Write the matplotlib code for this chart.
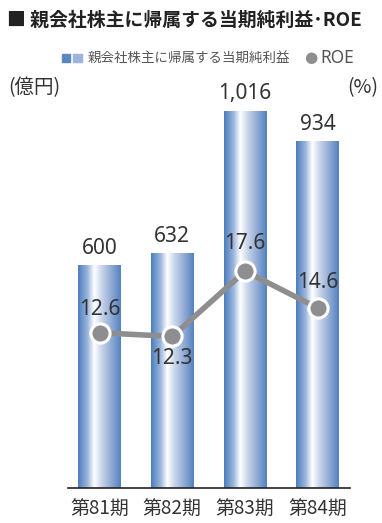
import numpy as np
import matplotlib.pyplot as plt
from matplotlib.colors import LinearSegmentedColormap
from matplotlib.patches import Rectangle

plt.rcParams['font.family'] = ['Noto Sans CJK JP', 'DejaVu Sans']

periods = ['第81期', '第82期', '第83期', '第84期']
net_income = [600, 632, 1016, 934]          # 億円
roe = [12.6, 12.3, 17.6, 14.6]              # %
income_labels = ['600', '632', '1,016', '934']

text_col = '#333333'
line_col = '#8e8e90'
num_font = ['Noto Sans', 'DejaVu Sans']

# 円柱風の横グラデーション
bar_cmap = LinearSegmentedColormap.from_list(
    'cyl', [(0.0, '#4c7dbd'), (0.22, '#9bb5dc'), (0.38, '#ffffff'),
            (0.55, '#c9d5eb'), (0.8, '#8aa6d2'), (1.0, '#5382c0')])
grad = np.linspace(0, 1, 256).reshape(1, -1)

fig = plt.figure(figsize=(3.82, 5.23), dpi=100)
ax = fig.add_axes([0.178, 0.067, 0.738, 0.742])
ax2 = ax.twinx()

x = np.arange(len(periods))
w = 0.59
bars = ax.bar(x, net_income, width=w, color='none', edgecolor='none', zorder=2)
for b in bars:
    ax.imshow(grad, cmap=bar_cmap, aspect='auto', zorder=2,
              extent=[b.get_x(), b.get_x() + b.get_width(), 0, b.get_height()])
for xi, v, lab in zip(x, net_income, income_labels):
    ax.text(xi, v + 18, lab, ha='center', va='bottom', fontsize=15,
            fontweight='light', color=text_col, family=num_font)

ax.set_xlim(-0.433, 3.44)
ax.set_ylim(0, 1046)
ax2.set_ylim(0, 31.5)

ax2.plot(x, roe, color=line_col, lw=4, zorder=3, solid_capstyle='butt')
ax2.scatter(x, roe, s=190, color=line_col, edgecolor='white', linewidths=2.2, zorder=4)
roe_offsets = [1.0, -0.9, 1.4, 1.2]
for xi, v, dy in zip(x, roe, roe_offsets):
    ax2.text(xi, v + dy, f'{v:.1f}', ha='center', va='bottom' if dy > 0 else 'top',
             fontsize=15, fontweight='light', color=text_col, family=num_font, zorder=5)

ax2.set_zorder(ax.get_zorder() + 1)
ax2.patch.set_visible(False)

for a in (ax, ax2):
    for s in ('top', 'right', 'left'):
        a.spines[s].set_visible(False)
    a.set_yticks([])
ax2.spines['bottom'].set_visible(False)
ax.spines['bottom'].set_color('#222222')
ax.spines['bottom'].set_linewidth(1.2)
ax.set_xticks(x)
ax.set_xticklabels(periods, fontsize=13.6, color=text_col)
ax.tick_params(axis='x', length=0, pad=8)

# タイトル・凡例・単位
fig.text(0.018, 0.962, '■ 親会社株主に帰属する当期純利益･ROE', fontsize=13.6,
         fontweight='bold', color='#222222', va='center', ha='left')

leg_y = 1 - 58 / 523
fig.patches.append(Rectangle((62 / 382, leg_y - 0.008), 8 / 382, 0.016,
                             transform=fig.transFigure, color='#5a86c4'))
fig.patches.append(Rectangle((73 / 382, leg_y - 0.008), 9 / 382, 0.016,
                             transform=fig.transFigure, color='#9db5dc'))
fig.text(88 / 382, leg_y, '親会社株主に帰属する当期純利益', fontsize=9.7,
         color='#555555', va='center', ha='left')
fig.text(304 / 382, leg_y, '●', fontsize=11, color=line_col, va='center', ha='left',
         family=['DejaVu Sans'])
fig.text(320 / 382, leg_y, 'ROE', fontsize=12.5, color='#555555', va='center', ha='left',
         family=num_font)

fig.text(8 / 382, 1 - 88 / 523, '(億円)', fontsize=14, color=text_col, va='center')
fig.text(378 / 382, 1 - 88 / 523, '(%)', fontsize=14, color=text_col, va='center', ha='right')

fig.savefig('out.png', dpi=100)
